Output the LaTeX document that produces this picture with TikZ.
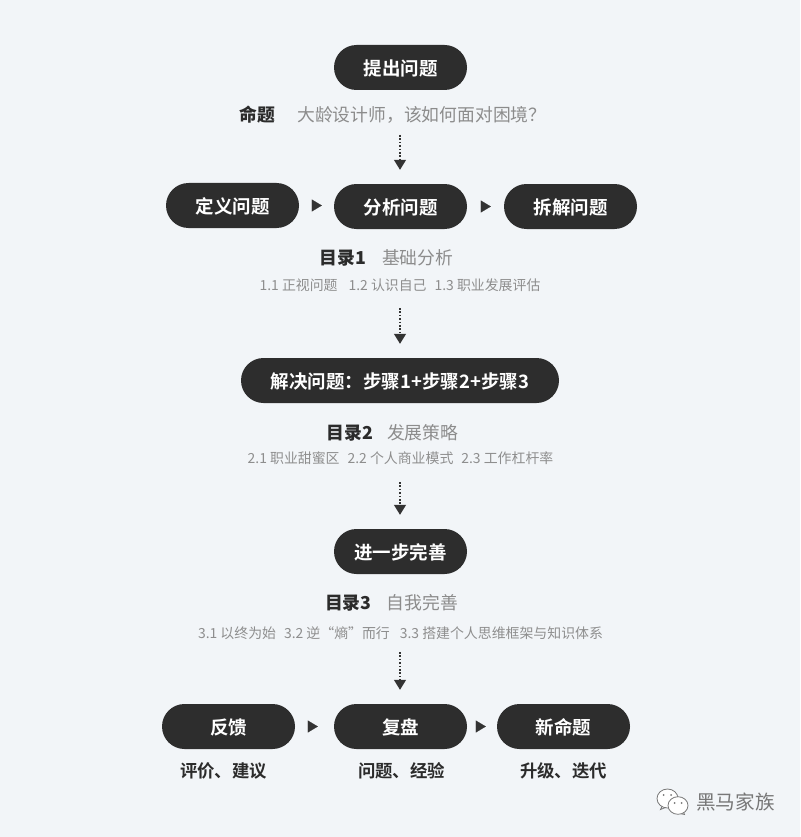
\documentclass[tikz,border=0pt]{standalone}
\usepackage{fontspec}
\usetikzlibrary{shapes.misc,arrows.meta}
\setmainfont{Noto Sans CJK SC}
\newfontfamily\cjkbold{Noto Sans CJK SC Bold}
\newfontfamily\cjkblack{Noto Sans CJK SC Black}
\newfontfamily\cjkreg{Noto Sans CJK SC}
\definecolor{bgc}{HTML}{F2F5F8}
\definecolor{pillc}{HTML}{2D2D2D}
\definecolor{greyc}{HTML}{8C8C8C}
\definecolor{subc}{HTML}{8E8E8E}
\definecolor{darkc}{HTML}{2B2B2B}
\definecolor{arrowc}{HTML}{333333}
\definecolor{markc}{HTML}{777777}
\tikzset{
  pill/.style={rounded rectangle,fill=pillc,text=white,minimum width=133pt,minimum height=45pt,inner sep=0pt,text depth=0pt,font=\cjkbold\fontsize{18.5pt}{22pt}\selectfont},
  heading/.style={inner sep=0pt,font=\cjkreg\fontsize{17.8pt}{22pt}\selectfont,text=greyc},
  sublist/.style={inner sep=0pt,font=\cjkreg\fontsize{13.9pt}{16pt}\selectfont,text=subc},
  caption/.style={inner sep=0pt,font=\cjkbold\fontsize{17.4pt}{21pt}\selectfont,text=darkc},
  dotarrow/.style={draw=arrowc,line width=1.3pt,dash pattern=on 1.6pt off 1.8pt,-{Triangle[length=10pt,width=12pt,fill=arrowc]},shorten >=14pt},
  sidearrow/.style={draw=arrowc,line width=0.1pt,-{Triangle[length=10pt,width=12pt,fill=arrowc]}},
  bubble/.style={draw=markc,line width=0.8pt,fill=white}
}
\newcommand{\hd}[1]{{\cjkblack\color{darkc}#1}}
\begin{document}
\begin{tikzpicture}[x=1pt,y=-1pt]
\useasboundingbox (0,0) rectangle (800,837);
\fill[bgc] (0,0) rectangle (800,837);
% pills
\node[pill] (ask) at (400.5,67.5) {提出问题};
\node[pill] (define) at (232.5,205.5) {定义问题};
\node[pill] (analyse) at (400.5,206.5) {分析问题};
\node[pill] (split) at (570.5,206.5) {拆解问题};
\node[pill,minimum width=318pt] (solve) at (400,380.5) {解决问题：步骤1+步骤2+步骤3};
\node[pill] (improve) at (400.5,551.5) {进一步完善};
\node[pill] (feedback) at (228.5,726.5) {反馈};
\node[pill] (review) at (400.5,726.5) {复盘};
\node[pill] (newq) at (563.5,726.5) {新命题};
% headings
\node[heading] (h0) at (393,114.5) {\hd{命题}\hspace{22pt}大龄设计师，该如何面对困境？};
\node[heading] (h1) at (386.5,257.5) {\hd{目录1}\hspace{16pt}基础分析};
\node[sublist] (s1) at (400,285) {1.1 正视问题\hspace{11pt}1.2 认识自己\hspace{8pt}1.3 职业发展评估};
\node[heading] (h2) at (392.5,432.5) {\hd{目录2}\hspace{14pt}发展策略};
\node[sublist] (s2) at (400.5,458) {2.1 职业甜蜜区\hspace{8pt}2.2 个人商业模式\hspace{8pt}2.3 工作杠杆率};
\node[heading] (h3) at (391.5,602.5) {\hd{目录3}\hspace{15pt}自我完善};
\node[sublist] (s3) at (400.5,633) {3.1 以终为始\hspace{8pt}3.2 逆“熵”而行\hspace{10pt}3.3 搭建个人思维框架与知识体系};
% captions
\node[caption] (c1) at (223.5,771) {评价、建议};
\node[caption] (c2) at (401.5,771) {问题、经验};
\node[caption] (c3) at (563.5,771) {升级、迭代};
% dotted connectors
\coordinate (d0) at (400,135);
\coordinate (d1) at (400,308);
\coordinate (d2) at (400,482);
\coordinate (d3) at (400,652);
\draw[dotarrow] (d0) -- (analyse.north -| d0);
\draw[dotarrow] (d1) -- (solve.north -| d1);
\draw[dotarrow] (d2) -- (improve.north -| d2);
\draw[dotarrow] (d3) -- (review.north -| d3);
% side connectors
\draw[sidearrow,shorten <=13pt,shorten >=12pt] (define.east) -- (analyse.west |- define.east);
\draw[sidearrow,shorten <=14pt,shorten >=13pt] (analyse.east) -- (split.west);
\draw[sidearrow,shorten <=13pt,shorten >=16pt] (feedback.east) -- (review.west);
\draw[sidearrow,shorten <=9pt,shorten >=11pt] (review.east) -- (newq.west);
% watermark
\draw[bubble] (663,804.5) -- (660.5,809.5) -- (668,806.5) -- cycle;
\draw[bubble] (667.5,798.5) ellipse [x radius=10.5pt,y radius=9.5pt];
\draw[bubble] (683,811) -- (684.5,814.5) -- (678,813) -- cycle;
\draw[bubble] (678,805.5) ellipse [x radius=10pt,y radius=8.8pt];
\fill[markc] (663.5,795) circle (1pt) (671,795) circle (1pt) (674.5,803) circle (1pt) (681.5,803) circle (1pt);
\node[inner sep=0pt,text=markc,font=\cjkreg\fontsize{19.6pt}{23pt}\selectfont] (mark) at (735.5,802) {黑马家族};
\end{tikzpicture}
\end{document}
